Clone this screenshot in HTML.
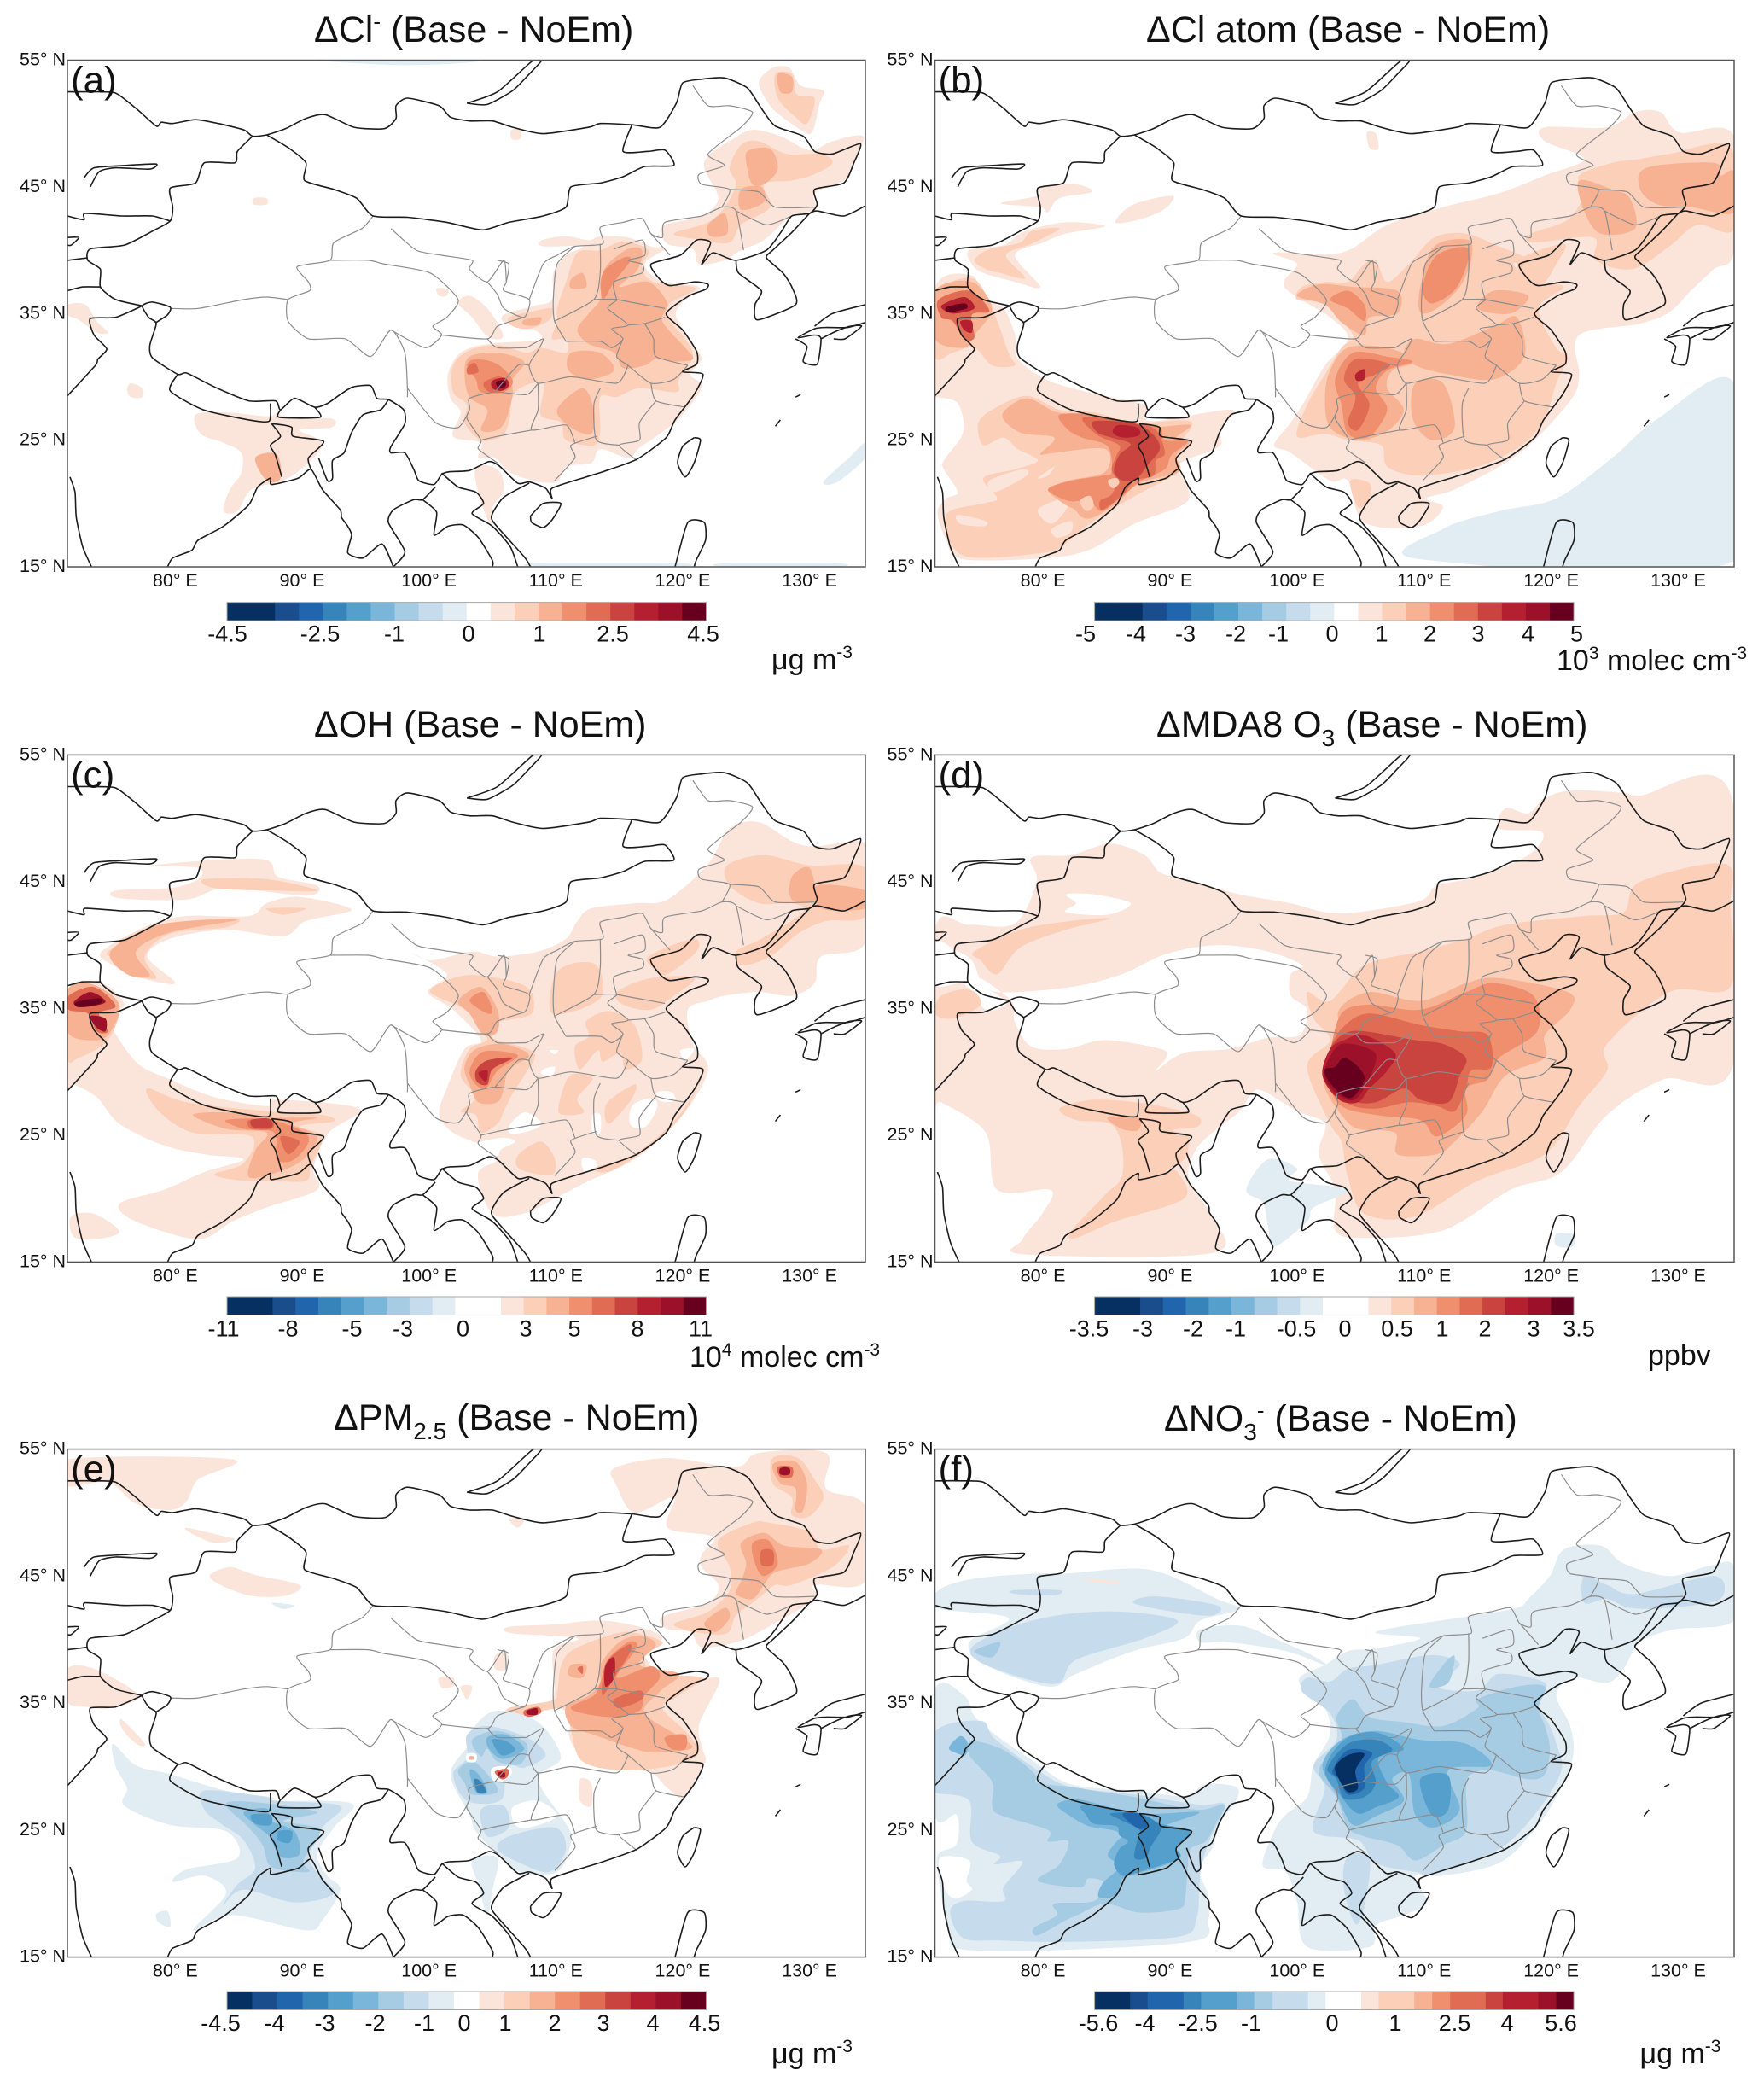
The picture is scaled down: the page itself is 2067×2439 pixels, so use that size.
<!DOCTYPE html>
<html lang="en">
<head>
<meta charset="utf-8">
<title>Base minus NoEm difference maps</title>
<style>
html,body{margin:0;padding:0;background:#fff}
svg{display:block}
text{font-family:"Liberation Sans",sans-serif;fill:#111}
.title{font-size:43px}
.letter{font-size:44px}
.cbl{font-size:27px;text-anchor:middle}
.unit{font-size:34px}
.tick{font-size:21.5px}
</style>
</head>
<body>
<svg id="fig" xmlns="http://www.w3.org/2000/svg" width="2067" height="2439" viewBox="0 0 2067 2439">
<rect x="0" y="0" width="2067" height="2439" fill="#fff"/>
<g id="maps"></g>

<text class="title" x="368" y="49">ΔCl<tspan font-size="26" dy="-15">-</tspan><tspan dy="15"> (Base - NoEm)</tspan></text>
<text class="title" x="1343" y="49">ΔCl atom (Base - NoEm)</text>
<text class="title" x="368" y="863">ΔOH (Base - NoEm)</text>
<text class="title" x="1355" y="863">ΔMDA8 O<tspan font-size="28" dy="11">3</tspan><tspan dy="-11"> (Base - NoEm)</tspan></text>
<text class="title" x="391" y="1675">ΔPM<tspan font-size="28" dy="11">2.5</tspan><tspan dy="-11"> (Base - NoEm)</tspan></text>
<text class="title" x="1364" y="1676">ΔNO<tspan font-size="28" dy="11">3</tspan><tspan font-size="26" dy="-26">-</tspan><tspan dy="15"> (Base - NoEm)</tspan></text>

<g id="cbars"></g>

<text class="cbl" x="266.5" y="751.5">-4.5</text>
<text class="cbl" x="375" y="751.5">-2.5</text>
<text class="cbl" x="462" y="751.5">-1</text>
<text class="cbl" x="549" y="751.5">0</text>
<text class="cbl" x="632" y="751.5">1</text>
<text class="cbl" x="718" y="751.5">2.5</text>
<text class="cbl" x="824" y="751.5">4.5</text>

<text class="cbl" x="1272" y="751.5">-5</text>
<text class="cbl" x="1331" y="751.5">-4</text>
<text class="cbl" x="1389" y="751.5">-3</text>
<text class="cbl" x="1448" y="751.5">-2</text>
<text class="cbl" x="1498" y="751.5">-1</text>
<text class="cbl" x="1561" y="751.5">0</text>
<text class="cbl" x="1619" y="751.5">1</text>
<text class="cbl" x="1675.5" y="751.5">2</text>
<text class="cbl" x="1732" y="751.5">3</text>
<text class="cbl" x="1790.5" y="751.5">4</text>
<text class="cbl" x="1847.5" y="751.5">5</text>

<text class="cbl" x="262" y="1565.7">-11</text>
<text class="cbl" x="337.5" y="1565.7">-8</text>
<text class="cbl" x="412.5" y="1565.7">-5</text>
<text class="cbl" x="472" y="1565.7">-3</text>
<text class="cbl" x="542.5" y="1565.7">0</text>
<text class="cbl" x="616" y="1565.7">3</text>
<text class="cbl" x="673" y="1565.7">5</text>
<text class="cbl" x="747" y="1565.7">8</text>
<text class="cbl" x="821" y="1565.7">11</text>

<text class="cbl" x="1276" y="1565.7">-3.5</text>
<text class="cbl" x="1339" y="1565.7">-3</text>
<text class="cbl" x="1398" y="1565.7">-2</text>
<text class="cbl" x="1448" y="1565.7">-1</text>
<text class="cbl" x="1519" y="1565.7">-0.5</text>
<text class="cbl" x="1576" y="1565.7">0</text>
<text class="cbl" x="1637" y="1565.7">0.5</text>
<text class="cbl" x="1690" y="1565.7">1</text>
<text class="cbl" x="1740" y="1565.7">2</text>
<text class="cbl" x="1797" y="1565.7">3</text>
<text class="cbl" x="1850" y="1565.7">3.5</text>

<text class="cbl" x="258.5" y="2379">-4.5</text>
<text class="cbl" x="321.5" y="2379">-4</text>
<text class="cbl" x="380.5" y="2379">-3</text>
<text class="cbl" x="439.5" y="2379">-2</text>
<text class="cbl" x="497" y="2379">-1</text>
<text class="cbl" x="544" y="2379">0</text>
<text class="cbl" x="592" y="2379">1</text>
<text class="cbl" x="650" y="2379">2</text>
<text class="cbl" x="707" y="2379">3</text>
<text class="cbl" x="765" y="2379">4</text>
<text class="cbl" x="825.5" y="2379">4.5</text>

<text class="cbl" x="1287" y="2379">-5.6</text>
<text class="cbl" x="1341.5" y="2379">-4</text>
<text class="cbl" x="1403.5" y="2379">-2.5</text>
<text class="cbl" x="1466" y="2379">-1</text>
<text class="cbl" x="1561" y="2379">0</text>
<text class="cbl" x="1635" y="2379">1</text>
<text class="cbl" x="1704.5" y="2379">2.5</text>
<text class="cbl" x="1766" y="2379">4</text>
<text class="cbl" x="1829" y="2379">5.6</text>

<text class="unit" x="904" y="784">μg m<tspan font-size="21" dy="-13">-3</tspan></text>
<text class="unit" x="1824" y="785">10<tspan font-size="21" dy="-13">3</tspan><tspan dy="13"> molec cm</tspan><tspan font-size="21" dy="-13">-3</tspan></text>
<text class="unit" x="808" y="1601">10<tspan font-size="21" dy="-13">4</tspan><tspan dy="13"> molec cm</tspan><tspan font-size="21" dy="-13">-3</tspan></text>
<text class="unit" x="1931" y="1599">ppbv</text>
<text class="unit" x="904" y="2417">μg m<tspan font-size="21" dy="-13">-3</tspan></text>
<text class="unit" x="1921.5" y="2417">μg m<tspan font-size="21" dy="-13">-3</tspan></text>
</svg>

<script>
// ---- axis extents and tick values ----
const lonMin = 71.5, lonMax = 134.4, latMin = 15, latMax = 55;
const latTicks = [55, 45, 35, 25, 15];
const lonTicks = [80, 90, 100, 110, 120, 130];

// ---- colour steps: index = contour step (+ red, - blue) ----
const redSteps = ['#fbe5db','#fccfb9','#f7b294','#ef8f6e','#df6c53','#c9433f','#b42030','#9a1129','#67001f'];
const blueSteps = ['#e1edf2','#c6dbec','#a5cce3','#7ab6d9','#559fcd','#3784bb','#2166ac','#1a4d8c','#053061'];

// ---- colour-bar level edges ----
const levelsA = [-4.5,-4,-3.5,-3,-2.5,-2,-1.5,-1,-.67,-.33,0,.33,.67,1,1.5,2,2.5,3,3.5,4,4.5];
const levelsB = [-5,-4.5,-4,-3.5,-3,-2.5,-2,-1.5,-1,-.5,0,.5,1,1.5,2,2.5,3,3.5,4,4.5,5];
const levelsC = [-11,-10,-9,-8,-7,-6,-5,-4,-3,-2,-1,1,2,3,4,5,6,7,8,9,10,11];
const levelsD = [-3.5,-3,-2.5,-2,-1.5,-1,-.75,-.5,-.35,-.2,-.1,.1,.2,.35,.5,.75,1,1.5,2,2.5,3,3.5];
const levelsE = [-4.5,-4,-3.5,-3,-2.5,-2,-1.5,-1,-.5,-.25,.25,.5,1,1.5,2,2.5,3,3.5,4,4.5];
const levelsF = [-5.6,-4.77,-4.36,-3.52,-3.11,-2.28,-1.87,-1.44,-.61,-.2,.63,1.04,1.87,2.29,2.71,3.54,3.94,4.77,5.19,5.6];

// ---- national borders and coastlines, flat lon,lat lists ----
const coastlines = [
[71.5,52.5,73.6,52.5,75.3,52.4,76.9,51.2,78.5,49.8,78.9,50.1,79.8,50,81.6,50.3,83.4,50,85.4,49.5,86.1,49,87.2,49.1,88.7,49.6,90.3,50.4,91.8,50.7,94.1,49.7,96.5,49.6,97.4,50.4,97.4,51.4,98.3,52,100.8,51.4,101.7,50.5,103.2,50.2,105,50.2,106.6,49.7,109,49.2,112.6,49.7,113.5,50,116,49.9,118.2,49.7,119.5,51.6,120,53.2,121.5,53.5,123.3,53.6,125.1,52.8,126.2,51.2,127.3,49.8,129.5,49,130.4,47.8,131.8,47.6,134,48.4,133.5,46.9,132.7,45.3,130.4,44.8,130.6,43.6,130,42.9,128.6,42.7,127.8,41.5,126.6,40,124.2,39.2,122.4,39.8,121.5,38.9,122.2,40.6,121.1,40.8,119.8,39.6,117.5,38.9,118.2,37.7,119,37.2,121,37.5,122,37.3,121.8,36.9,120.5,36.4,118.7,35,120,33.7,121.1,32,121.1,31,120,30.4,121.6,30.2,120.9,28.6,119.4,26.6,118.7,25.2,116.4,23.5,113.7,22.5,112.4,22.1,109.7,21.2,109.7,20.4,109.2,21.2,107.9,21.7,107,21.6,105.5,23,104.7,23.3,103.2,22.6,101.6,22.5,101,22.3,100.4,21.5,99.2,21.8,98.8,22.7,98.1,24,97,24,97,24.5,98.1,26.3,98,27.4,96.8,28.2,95.9,28.3,95.4,29.3,94,29.2,93,28.6,92,27.9,91,27.6,89.4,28.3,88.3,27.4,87.9,28.1,85.8,28.1,83.1,29.2,80.9,30.3,80.2,30.2,78.2,31.5,78,32.5,78.5,34.2,77.9,34.7,77.4,35.6,78.2,35.9,79.6,35.5,79.4,34.9,78.5,34.3],
[77.4,35.6,75.3,36.1,74.1,37.1,74.1,38.5,73.1,39.2,73.3,40.1,76,40.4,78.2,41.5,79.6,42.3,79.8,43.4,79.6,44.9,81.6,45.3,82.3,46.9,84.7,46.9,84.9,47.8,86.1,49],
[79.6,42.3,78.2,42.7,75.8,42.7,72.9,42.9,72.8,42.4,71.5,42.7],
[71.5,41,72.4,41,71.8,40.4,71.5,40.4],
[71.5,39.2,73.1,39.4],
[71.5,36.8,72.7,37.1,74.1,37.1],
[77.4,35.6,75.3,34.7,73.3,34.6,73.6,33.3,74.6,32.2,73.9,31.4,73.7,30.9,71.5,28.5],
[87.2,49.1,88.9,48.1,90.3,46.9,90.2,45.5,92.5,44.8,94.3,44.1,95.6,42.7,98.3,42.6,101.4,42.2,104.2,41.6,106.3,42.2,109,42.7,110.8,43.4,111.2,45,113.5,45.3,115.3,45.8,117,46.6,119.3,46.7,118.6,47.9,117.3,47.8,115.3,47.8,116,49.9],
[130,42.9,130.6,43.1,132.7,42.7,134.4,43.5],
[130,42.9,128.6,41.4,127.1,40,126.6,39.4,127.9,38.2,128.6,37.1,128.9,35.7,125.9,34.5,125.7,35.7,126.2,36.8,124.4,38.2,124.2,39.2],
[80.2,30.2,79.6,28.9,82.2,27.4,85.8,26.6,87.4,26.5,87.5,27.9],
[88.3,27.4,88.2,26.8,91.4,26.8,91,27.6],
[96.8,28.2,96.2,27.4,94.8,27,93.9,25.6,93.3,24,92.4,23.4,92.4,22,92,21.8,91.3,23.6],
[87.6,26.3,88.5,26.2,89.2,26,89.3,25.3,91.7,24.9,90.5,23.6,90.7,22.7],
[87.6,26.3,88.3,25.3,87.5,24.6,87.9,23.8,88.4,22.1],
[79.4,15,79.8,15.7,81.3,16.3,81.8,17.1,83.8,18.2,85.8,19.9,86.5,21.3,87.5,22,87.6,21.5,89.7,22,90.7,22.7,91.6,21.1,93,19.5,93.1,18.9,93.6,18.2,93.9,17.5,93.6,16.1,94.8,15.7,96.3,16.8,97.2,15],
[71.7,22.1,72.1,20.9,72.2,18.9,72.7,16.6,73.4,15],
[97.2,15,98.1,16.2,96.8,18.5,97.2,19.5,98.8,20.3,99.5,20.3,100.5,21.3],
[99.5,20.3,100.6,19.3,100.4,17.5,101.5,18.2,102.7,18.3,103.9,17.3,105,15.5,105,15],
[101,22.4,102.3,21.3,103.7,20.9,104.3,20,103.4,19.2,105,18.2,106.4,16.6,107,15],
[107.9,21.6,105.9,20.5,105,19.2,105.1,18.5,107.5,15.8,108,15],
[108,19,109,20,110.4,20,109.7,18.7,109,18.1,108.1,18.5,108,19],
[120.9,25.2,121.4,25,120.9,23.2,120.2,22.1,119.6,23.2,120,24.5,120.9,25.2],
[134.4,35.7,131.8,35,130.4,34],
[134.4,34.3,133,33.9,131.3,33.9,130.4,33.8,129.1,33.1,130.4,33.3,130.9,33,130.6,31,129.5,31.2,129.8,32.4,128.9,33],
[131.9,33,132.8,33,134.1,34,133.2,34,132.1,33.6,130.9,33],
[119.4,15,120.4,18.5,121.7,18.5,121.8,17.1,121.1,15.6,120.9,15],
[127.3,26.1,127.7,26.6],
[128.9,28.4,129.3,28.6],
[103,51.6,105.4,52.5,108.1,54.9,108.9,55,107.9,53.9,106.6,52.6,104.6,51.5,103,51.6],
[72.8,45.7,73.6,46.5,76.2,46.7,78.5,46.8,78,46.4,75.3,46.5,74,46.2,73.3,45]
];

// ---- provincial borders, flat lon,lat lists ----
const provinces = [
[95.6,42.7,94.7,41.7,92.5,40.6,92.2,39.2,89.6,38.7,90.5,37.5,90.6,36.8,88.9,36.1,88.9,34.4,90.5,33,93.4,33,95.4,31.6,97,33.7,98.1,31.9,98.3,29.1,98.3,28.4],
[79.6,35.4,81.8,35.4,85.4,36.1,87.2,36.3,88.9,36.1],
[92.2,39.2,95.2,39.2,96.5,38.9,100.1,38.2,102.3,36.1,101.4,34.7,100.3,34,101,33.3,99.7,32.3,97,33.7],
[97,41.7,99,40,101,39.6,103.4,39.2,103.2,38.5,104.6,37.5,105.9,39.2,106.1,37.5],
[105.4,39.2,106.3,38.9,106.1,37.5,105.9,36.8,107.9,36.1,107.5,34.7,105.9,35.4,105.4,36.5,104.6,37.5],
[107.9,36.1,109,38.9,110.1,39.6,111.5,40.3,113.7,40.5,113.5,41.8,115.3,42.2,116.8,42.5,117.5,41.3,118.4,41,118.6,42.2,121.5,42.7,123.1,43.4,124.2,43.1,124.8,40],
[123.1,43.4,123.7,44.8,121.5,45.2,121.3,46,123.3,46.7,122,47.6,124.6,49.7,125.5,50.9,123.7,51.4,122,51.4,120.8,53],
[123.7,44.8,126,44.6,127.3,43.4,130.4,43.4],
[124.2,43.1,126.6,42,128.6,42.7],
[111.5,40.3,110.1,38.9,109.8,36.1,109.9,34.4,110.8,32.8],
[113.5,40.5,113.5,38.2,113,36.1,109.9,34.4],
[113,36.1,114.8,36.1,114.1,35.4,115.7,34.1,114.4,33.8,115.3,33,114.4,32.3,113.5,32.8,110.8,32.8],
[114.6,40.1,116.8,40.8,117,39.6,115.7,39.2,116.8,38.9,116.8,38.2,114.6,37.5,114.8,36.1],
[117.5,41.3,119,39.6],
[114.8,36.1,118.6,35.4],
[115.7,34.1,117,34.2,118.6,34.7],
[117,34.2,117.7,33,117.9,31.6,120.4,30.9],
[115.3,33,114.8,31.6,115.7,30.9,117.5,29.5,119.3,29.8,120.4,30.9],
[117.5,29.5,117.9,28.1,120.2,27.6],
[117.9,28.1,116.6,26.4,116.6,25,115,24.6,116.4,23.4],
[107.7,32.3,109,33,108.6,32.1,107.9,30.9,108.6,29.5,111.2,30,114.8,29.5,115.7,30.9],
[113.5,29.1,113,27.8,113.2,25,115,24.6],
[113.2,25.3,111.2,24.6,111.5,23.6,109.9,21.8],
[108.6,29.5,108.6,27.4,108.1,25.8,110.8,26.2,111.5,24.8],
[104.1,25,105.4,25.3,108.1,25.8],
[98.3,29.1,100.5,26.4,102.3,26,103.2,27.4,103.2,28.3,105.2,28.8,107.7,28.6,108.6,29.5],
[103.2,27.4,103,26.7,104.1,25,103.9,24.3,105.4,23.2],
[105.2,28.8,107,30.9,107.9,30.9],
[104.6,33,105.4,32.3,107.7,32.3],
[101,33.3,104.6,33,105.4,34,107.5,34.7]
];

// ---- panel (a) filled contours: [colour step, flat lon,lat ring] ----
const contoursA = [
[-1,[131.1,21.7,133.1,23.6,134.4,24.8,134.4,23.6,132.2,21.7]],
[-1,[108.6,15,109,15.3,119.5,15.3,119.5,15]],
[-1,[123.4,15,123.4,15.3,132,15.3,132,15]],
[-1,[92,54.9,98,54.6,103,54.8,103,55,92,55]],
[1,[127.1,54.4,128.4,54.4,129.3,53,131.1,52.6,130.8,51.6,130.2,49.3,129.3,49.5,128,50.4,126.9,51.4,126,53.2]],
[1,[124,48.8,125.5,49.5,127.7,49,130,47.9,131.8,48.6,134.2,49,133.5,46.9,132.7,45.5,130.4,44.5,130.5,43.2,128.6,42.7,126.4,40.8,124.6,40,123.3,39.2,121.3,38.9,120.8,40.1,118.8,40.5,118.4,41.9,121.5,42.7,122.8,44.1,121.7,46.5,122.2,47.6]],
[1,[108.9,40.8,110.8,41.1,112.6,40.8,113.5,41.1,115.7,41,117.5,40.3,118.6,40.1,117,38.9,118.4,37.5,121.3,37.1,119.9,35.8,119.5,34.7,120.8,32.6,121.5,31.4,120.6,30.2,121.5,29.2,119.9,26.9,118.2,25.5,116.6,24.4,115.7,23.6,113.5,24.3,112.8,23.2,110.8,22.9,110.1,21.7,108.3,21.8,106.3,22.5,105.2,23.6,103.9,23.6,104.1,24.8,101.9,25.3,102.5,27.2,101.7,28.3,101.5,30.2,102.5,31.9,104.6,32.6,107.7,32.8,108.9,33,108.3,33.7,106.1,34.2,105.9,34.9,108.3,35.6,109.7,36.1,109.8,38.2,110.8,39.6,112.1,40.3,109,40.3]],
[1,[102.3,35.8,103.2,36.4,104.6,35.4,105.7,33.7,105.7,33,104.6,33.2,103.4,34.7]],
[1,[100.6,37,101.5,36.9,101.4,36.4,100.8,36.4]],
[1,[81.6,27,84,27.2,87.6,26.9,88.1,27.8,88.5,26.9,92.3,26.7,92.3,26,89.8,25.8,91.6,24.8,90.5,23.2,88.5,21.8,86,21.1,84.9,19.4,83.8,19.4,84.3,21.1,85.2,22.4,85.2,24,83.8,24.8,82,25.5]],
[1,[71.5,35.7,72.9,35.7,73.8,34.4,74.7,33.5,73.8,33.5,72.4,34.5,71.5,34.9]],
[1,[76.5,29.5,77.4,29.1,77.4,28.4,76.5,28.4,76.2,29]],
[1,[103.7,22.9,105.4,22.7,105.9,21.1,105,19.7,104.8,18.4,103.9,20.8]],
[1,[86.2,44.1,87.2,44.1,87.2,43.6,86.2,43.6]],
[1,[106.5,49.5,107.2,49.5,107.2,48.8,106.5,48.8]],
[2,[124.6,48.3,126,48.6,128.2,47.6,130.9,47.6,131.8,46.9,130.4,46,128.6,45.5,126.4,45.2,126.9,43.4,124.6,42,123.7,40.6,121.5,40.8,119.3,41.3,122,42.2,123.3,43.4,124.2,45.2,123.7,46.5]],
[2,[127.3,53.9,128.6,53.9,129,52.3,130.4,52,129.8,50,128.9,50.5,127.5,52]],
[2,[110.1,35.4,110.8,37.5,111.7,39.8,113.5,40,115.3,40.7,117.3,40,116.8,38.7,117.7,37.5,121,37,119,35.8,118.8,34.7,120.2,33,120.8,31.6,119.7,29.8,119.5,28.8,116.6,29.1,114.8,28.4,113.5,28.4,113.5,25.7,113,24.6,110.8,25,110.4,26.4,108.8,27,109,29.5,106.8,28.8,106.3,26.4,105.7,25.3,104.1,25,102.8,26.4,103,27.8,101.9,28.8,101.9,30.9,103.2,32.1,105.4,32.5,107.7,31.9,108.8,32.3,110.8,31.9,110.8,33,109.7,33,110.1,34.4]],
[2,[106.3,34.7,108.3,35.2,109.7,35.4,109.5,34.5,107.9,33.8,106.6,34]],
[3,[113.5,37.5,114.1,38.9,115.7,40.1,116.8,40,116.4,38.4,115,37.1,117.3,37.5,118.8,35.8,118.4,34.4,120.2,32.3,120.8,31.4,119.3,31.2,117.9,31.4,117,30.9,115.3,30.7,114.6,31.9,112.6,32.6,111.7,33.7,112.6,35,113.5,36.1]],
[3,[102.8,30.2,103.2,31.6,105.4,31.9,107.5,31.2,106.6,29.8,106.6,28.6,106.1,26.7,105.4,25.8,104.1,25.8,104.6,27.4,103.2,28.4]],
[3,[111.2,31.9,113.5,31.9,114.6,30.5,112.6,29.8,111,30.5]],
[3,[112.1,29.1,113,27.4,112.8,25.5,111.2,26,110.1,27.4]],
[3,[111.2,37.7,112.1,38.2,112.4,37.1,111.2,37]],
[3,[86.3,23.6,88,23.9,88.3,22,87.2,21.8]],
[3,[125.1,47.8,126.9,48,127.5,46.4,126.4,45.2,125.5,45.2,125.1,46.4]],
[3,[124.6,44.8,126.2,45,126.4,43.8,124.6,43.2]],
[3,[122,42,123.3,42.9,123.5,41.3,122.2,41.1]],
[3,[127.5,53.9,128.6,53.7,128.6,52.5,127.7,52.5]],
[3,[107.5,34.5,108.8,34.7,108.6,34.1,107.5,34.1]],
[4,[113.7,38.2,115.3,39.4,115.9,39.2,114.6,37.5,113.7,36.1]],
[4,[103,30.9,103.7,31.4,105.4,31,106.6,29.7,105.9,28.8,104.1,28.8,103.7,29.8]],
[5,[103,30.7,103.6,31.1,103.9,30.4,103.1,30.2]],
[5,[104.3,29.5,105.4,30,106.3,29.7,106.1,29,104.8,28.8]],
[7,[105,29.7,106,29.9,106.3,29.3,105.7,28.9,105,29.1]],
[9,[105.3,29.6,106,29.7,106,29.2,105.5,29.1]]
];

// ---- panel (b) filled contours ----
const contoursB = [
[-1,[109.7,15.6,111.5,18,115.9,19.4,120.4,20.4,124.8,23.6,128.4,26.7,134.4,29.5,134.4,15.5]],
[1,[119.5,49.7,124.4,49.7,126.6,50.9,128.6,50.9,130.1,49.3,134.4,49,134.4,40,132.8,38.5,131,36.8,129.3,35.1,127,34.2,122.2,33.3,122.2,30.2,121.7,28.4,119,25.3,116.4,23.2,112.4,21.1,110.2,20.4,111.5,19.7,109.7,18.2,105.3,18.5,104,21.8,102.6,21.8,99.5,24,98.2,24.6,99.5,26.4,100.6,28.1,102.2,30.9,104,33,102.6,34.7,99,37.1,100,38.9,98.2,39.8,103.5,39.8,107.1,42,111.5,43.4,115.9,44.5,119.5,45.9,122.6,47.2,119.5,48.6]],
[1,[71.5,37,74.4,38,75.3,36.1,76.9,35.4,77.8,33.3,78,31.5,80,29.9,82.7,29,87.2,28,88.2,27.7,88.5,26.5,94.8,27.4,93.9,25.8,93.9,24.5,91.2,23.4,90.7,22.7,91.4,20.2,87.2,18.4,83.8,16.4,80.4,15.7,73.7,15.6,72.4,17.1,71.7,19.3,72.4,20.4,73.3,20.9,72.2,22.7,72.2,23.4,73.7,25.6,73.3,27.9,71.7,28.4,71.5,28.5]],
[1,[74.2,40,76.9,40.4,78.6,41.5,81.8,42.2,84.9,41.9,81.8,41.3,80,40.6,77.8,39.6,79.8,37.1,77.8,37.5,75.3,38.2,74.4,38.9]],
[1,[76.9,43.8,79.6,44.3,79.9,45,82.6,45.2,83.9,44.6,81.3,44.1,80.4,43,79.8,43.4,77.1,43.6]],
[1,[85.7,42.2,87.1,43.6,90.2,44.3,89.5,43.2,87.5,42.4]],
[1,[105.5,49.3,106.2,49.2,106.4,48,105.7,48.1]],
[2,[122.2,45.9,124.8,46.9,127,47.2,129.3,47.6,134.1,48.1,134.4,41.7,131.5,42,129.3,40.3,126.4,38.5,123.5,39.2,123.3,41,118.6,40.6,118.4,41.3,121.3,42.4,122.6,44.5]],
[2,[108.8,38.9,110.8,41,113.3,41.3,115.9,40.3,118.4,39.2,117,38.9,118.8,37.5,121,37.1,119,35.4,120.4,32.3,121.3,31.6,120.4,29.5,119.5,26.7,117.7,24.6,114.2,22.9,109.7,22.2,107.1,22.9,106.6,24.6,104,25,102.2,25.5,100,25.3,100.8,27.8,102.2,30.2,103.5,32.3,104.4,33.3,102.2,35.7,100,36.1,100.4,37.1,102.2,37.5,104,37.5,105.3,38.9,106.2,39.2,107.1,37.5]],
[2,[117.3,39.1,121,40.5,120.4,38.9,119,37.1]],
[2,[104.2,21.8,105.7,21.6,105.7,20.4,104.8,19.7]],
[2,[74.9,26.3,76,27.4,78.7,28.5,81.3,27.4,84,27.2,87.2,26.4,91.6,26.5,91,25,91.7,24.9,90.5,23.6,90.7,22.5,87.8,20.9,85.4,19.5,83.1,18,81.6,16.7,80,16.1,73.7,15.9,72.4,19.1,75.3,20,76.4,20.4,75.3,22,77.8,22.7,79.6,23.4,78,24.3,76.9,25.2,75.3,24.6]],
[1,[75.8,21.8,78.4,22.7,78.7,22.2,76.2,20.9]],
[1,[79.6,19.5,81.6,20.4,82,19.8,80.7,18.4]],
[1,[80.7,18,82.2,18.6,82.2,17.7,81.1,17.3]],
[1,[79.6,22,80.9,22.9,80.4,22.2]],
[1,[73.3,19.1,75.5,18.6,75.3,18.2,73.5,18.4]],
[2,[71.5,36.4,74.4,37.8,76,35.4,77.3,31.9,77.8,30.9,76,30.9,74.6,32.3,72.9,31.9,71.5,31.6]],
[2,[74.6,39.2,75.8,40.1,78.2,40.6,79.1,41.5,81.3,41.7,79.1,40.5,77.1,39.6,78.6,37.8,76.6,38.2,75.5,38.5]],
[3,[127.5,46.5,132.8,46.9,133.3,45.9,134.4,46.2,134.4,43,131,43.4,128.4,43.6,127,44.8]],
[3,[122.2,45.5,124.8,44.8,126.2,44.1,126.6,41.7,123.9,41.3,122.6,43.1]],
[3,[109.7,37.1,110.8,40.3,113.5,40.8,113.7,39.2,112.8,37.1,111,35.4,109.7,35.1]],
[3,[100,36.4,101.7,37.3,104.4,37.1,107.9,36.8,107.9,35,105.7,34.7,105.3,33.3,103.5,34.3,102.2,35.7]],
[3,[102.6,30.5,104,32.3,107.1,32.3,109.3,31.2,107.5,30.5,107.1,29.1,108.4,27.4,107.1,25.7,104.8,25,102.6,26,102.2,28.4]],
[3,[109.3,33,111.9,32.6,115.5,34,117.3,34.7,117.9,31.6,115.5,29.8,111.9,30.2,109.3,30.9,108.4,31.9]],
[3,[109.3,29.5,111.5,29.5,112.4,26,110.6,25,109.1,26.7]],
[3,[114.2,35.4,115.5,36.8,118.2,36.4,116.8,35]],
[3,[76.8,27,78.7,28.3,81.1,27.2,83.8,27,87.2,26.3,88.5,26,91.6,26.2,90.5,25.2,91.6,24.9,90.5,23.8,90.7,22.5,87.6,21.6,85.8,20,84,18.9,83.1,18.9,82.5,19.5,81.6,20,80.4,21.1,82,21.8,84.9,22.5,84.9,24.3,80.9,24,79.8,23.9,80.9,25.2,78.2,25.6]],
[3,[71.5,36.8,74.4,37.5,76,35.4,74.6,33.3,73.8,32.3,71.5,33]],
[4,[109.9,37.1,111,39.6,113.5,40.1,112.6,37.1,110.6,35.8]],
[4,[102.6,36.1,104,36.8,105.3,35.7,105.3,34.4,104,35.4]],
[4,[103,29.8,104.4,31.9,107.1,31.6,109.1,31.2,107.1,30.5,106.2,29.1,107.1,27.4,105.7,25.3,104,25.5,103.5,27.8]],
[4,[81.3,27,84,27,87.2,26.3,89.2,26,89.6,25,91.4,24.9,90.1,23.8,89.6,22.7,87.6,21.7,85.8,20.2,84.6,19.4,83.6,20.2,82,20.2,80.4,21.1,82.2,21.8,84.7,22.2,85.4,22.5,85.1,24.5,83.1,25.2,82,25.8]],
[2,[82.9,20.2,83.7,20.6,84,19.8,83.4,19.4]],
[5,[83.1,26.7,84.9,26.8,87.4,26.3,88.9,25.8,89.6,24,88.9,23.4,88.7,22.2,87.2,21.8,86.3,20.7,84.7,19.5,84.5,20.2,85.4,20.7,85.8,21.8,85.4,22.7,85.8,23.8,86,24.6,84.3,25.4]],
[2,[85.1,21.8,85.8,22,86,21.6,85.5,21.2]],
[5,[103.7,29.8,104.6,31.4,107.3,31,106.2,30.2,104.8,29.5,105.7,27.8,104.8,25.8,104,26.4,104.6,28.4]],
[5,[71.8,36.1,74.2,36.8,75.8,35.2,74.4,34.9,74.6,33.1,73.8,33,72.9,34.4,72,34.7]],
[6,[84,26.5,87.2,26.3,88.7,25.4,89.2,24.3,88.3,23.1,87.4,22,86.3,21.8,85.6,22.5,86,23.8,86.9,24.7,85.4,25.2,84.3,25.6]],
[7,[85.5,25.8,86,26.2,87.4,26,87.6,25.4,86.5,25.2,85.7,25.4]],
[7,[104.6,30.2,105.3,30.6,105.3,29.8,104.7,29.7]],
[7,[72,35.6,73.8,36.3,74.6,35.4,72.9,35]],
[7,[73.5,34.4,74.4,34.4,74.4,33.5,73.8,33.7]],
[9,[72.4,35.5,73.8,35.8,74,35.4,72.6,35.1]]
];

// ---- panel (c) filled contours ----
const contoursC = [
[1,[112.8,42.9,116.2,43.3,118.8,43.6,122,46.4,123.7,49.2,126,49.7,128.6,48.2,130.4,47.8,134,48.2,134.4,46.8,134.4,40.2,130.9,39.1,130.4,37,128.6,36,126,36.3,123.3,36,122,35.6,120.4,34.9,120.8,32.2,122,30.1,119.7,26.2,116.2,23.1,112.6,21.4,109.9,20,107.7,18.9,105.4,18.6,104.3,20,103.9,22.1,105.4,23.1,104.1,24.2,101.9,25.2,100.8,26.6,101.4,28.7,102.8,31.8,104.1,32.5,101.9,34.9,99.9,36.3,101.4,37.7,98.5,39.5,100.1,38.8,103.4,39.5,105.4,39.1,108.6,39.5,110.8,40.5,111.7,41.9]],
[0,[106.3,25.7,107.5,26.8,108.8,26.1,108.4,25.5,106.6,25.1]],
[0,[102.8,24.1,105.7,24.8,106.8,24.5,105.7,23.9,105.2,23.2,103.2,23.5]],
[0,[116.2,27.5,117.6,27.9,118,27.2,117.1,25.7,116,25.7,115.8,26.6]],
[0,[112.9,26.6,113.5,26.6,113.5,25.2,112.9,25.2]],
[0,[109,30.2,109.9,30.4,109.7,29.7,108.9,29.8]],
[0,[109.5,31.7,110.2,31.7,109.9,31.4]],
[0,[112.1,23.2,113.1,23,113.1,22.3,112.2,22.2]],
[0,[119.8,31.7,120.9,31.8,120.2,30.9]],
[0,[118,28.4,119.1,28.4,119.4,27.7,118.2,27.7]],
[1,[71.5,36.3,74.2,37,76,35.3,74.7,34.3,76.9,30.8,79.6,29.4,83.1,28,87.2,27.3,88,27.8,94.5,27.1,92.1,25.2,90.9,22.4,91.2,20.7,87.2,19.3,84.5,18.2,81.8,16.8,76.9,18.2,75.6,19.6,79.1,20.7,82.3,22.1,85.4,23.1,82.3,23.5,79.1,24.2,75.6,25.9,73.8,28,72,29,71.5,29]],
[1,[71.8,18.6,73.6,18.8,75.6,17.4,73.8,16.8,72,17]],
[1,[74.2,39.5,78,41.6,80.9,42.3,85.8,42.3,87.2,43.3,89.8,43.8,93.9,42.8,90.3,41.9,88.5,40.7,84,41.2,79.6,40.5,77.8,39.1,80,37,77.3,37.4,75.1,38.4]],
[1,[75.3,44.3,79.6,44.5,81.8,45.2,81.8,46.1,78.2,46.3,86.7,46.8,88.1,45.4,91.2,44.7,90.3,43.9,84,44.5,80.9,43.6,75.6,43.7]],
[2,[123.5,46.3,126.4,47.1,130,46.3,134.4,46.1,134.4,42.3,131.3,41.9,129.1,40.9,126.9,39.1,124.6,38.4,124.2,39.5,126.2,40.5,129.5,42.6,128.6,43.3,126,43.3,123.7,44.7]],
[2,[109.7,34.6,110.2,38,113.1,38.5,113.5,35.8]],
[2,[117.3,39.1,120.8,40.5,121.1,39.5,118.8,37.7,117.9,38]],
[2,[114.8,36.3,117.5,37.4,120.9,37.4,119.3,36,117.5,34.9,115.3,35.3]],
[2,[112.4,34,114.2,34.8,116.2,33.7,116.8,31,115.5,30.2,115.1,31.5,113.7,30.8,113.3,31.7,111.9,30.2,111.5,32,112.6,32.8]],
[2,[111.1,29.7,112.9,29.5,111.7,27.9,112.2,26.8,110.6,26.6,110.2,27.2]],
[2,[114,27.5,116.2,29,116,27.9,114.2,25.9]],
[2,[100.1,36.3,101.9,37.4,104.1,37.6,107.7,36.7,108.1,34.6,105.4,33.9,105,32.9,105.4,32.5,108.3,31.5,107.5,29.7,106.6,28.3,105.9,26.9,105.4,25.9,104.1,25.2,103.7,26.6,102.5,26.9,103.7,28,102.5,29.7,103.2,31.8,104.6,32.7,102.8,34.9]],
[2,[107,23.4,108.8,24.5,109.9,23.2,109.7,21.9,107.2,22.3]],
[2,[113,22.4,116.2,23.5,119.3,26.1,121.1,28.7,121.5,29.7,120.2,26.9,117.5,24.2,114.4,22.2]],
[2,[77.8,28.7,80.9,27.6,87.2,26.9,91.6,26.6,92.5,26.1,89.8,25.7,91.6,24.9,90.7,22.6,90.3,21.4,87.6,21.4,85.4,21.4,83.1,21.9,85.4,22.8,86,24.9,81.4,25.2,78.7,26.9]],
[2,[74.7,39.5,78.2,41.4,80.9,41.9,84.9,42.1,84,41.4,79.6,40.9,77.6,39.1,78.5,37.4,76.7,37.7,75.6,38.8]],
[2,[82.3,45.2,87.2,45.2,91.2,44.3,87.6,44.3,83.1,44.5]],
[2,[87.2,42.9,90.3,42.9,88.5,42.4]],
[2,[71.5,36,73.6,36.7,75.6,35.3,74.7,32.5,72.4,31.1,71.5,31.1]],
[3,[102.8,30.4,103.7,31.8,105.9,32.2,107.9,31.3,106.3,30.2,105.9,28.7,105.4,27.6,103.9,27.6,103.2,29]],
[3,[102.3,35.6,104.1,36.7,105.4,34.9,105.4,33.2,104.3,32.9,103.2,34.6]],
[3,[74.9,39.5,78.7,41.6,84.9,42,79.6,41,76.9,39.5,78,37.6,76.2,37.7]],
[3,[81.4,26.6,84,26.8,87.6,26.4,91.2,26.4,89.2,25.9,91.2,24.9,90.1,23.1,88.1,22.1,85.8,21.7,86.3,23.8,87.2,25.2,84,25.5]],
[3,[71.5,36.5,73.5,36.9,75.6,35.3,74.7,32.9,73.1,32.5,71.5,33.2]],
[3,[128.6,45.4,130,46.1,130.4,43.6,128.6,43.6]],
[3,[130.6,44.7,134.4,44.3,134.4,42.9,130.9,42.9]],
[4,[103.2,30.1,104.3,31.6,107,31.3,105.4,30.1,104.5,28.7,103.7,29]],
[4,[84,26.2,87.6,26.2,90.5,24.9,89.4,23.1,88,23.1,87.8,25.2,85.4,25.5]],
[4,[103.2,35.6,104.3,36.3,105,34.9,104.6,34.6]],
[5,[85.8,26.2,87.6,26.2,87.6,25.5,86,25.5]],
[5,[88.3,24.9,89.8,24.5,88.9,23.5]],
[5,[71.6,36,73.6,36.7,75.3,35.2,74,34.6,74.7,33.2,73.8,33.2,73.1,34.6,71.6,34.9]],
[6,[103.7,30.1,104.6,30.9,106.6,31.1,105,30.2,104.6,29,103.8,29.2]],
[6,[86,26.2,87.4,26.3,87.6,25.6,86.2,25.6]],
[7,[103.9,29.9,104.6,30.1,104.5,29.2]],
[8,[72,35.5,73.3,36.3,74.5,35.5,72.7,35.1]],
[8,[73.3,34.4,74.5,34.2,74.5,33.2,73.8,33.5]],
[9,[72.2,35.5,74,35.8,74.1,35.4,72.4,35.1]]
];

// ---- panel (d) filled contours ----
const contoursD = [
[1,[71.5,41.2,74.2,41.6,77.8,41.7,79.5,45,79.1,46.9,82.2,47.1,85.3,48,88,47.1,89.3,45.7,92,45,95.5,44,99.5,43.3,102.2,42.6,104.8,42.6,109.7,43.5,111,44.7,114.2,45.4,118.2,47.1,119.3,48.9,115.9,49.2,116.4,50.8,118.2,50.4,119.5,51.6,121.7,52.2,125.7,52,127,51.8,134.1,52,134.4,30.8,128.8,29.4,124.4,26.6,120.8,22.1,116.8,20.7,111.5,17.5,105.3,16.9,103,17.5,103,20.7,101.7,23.5,102.2,25.9,100,26.9,97.3,28.5,96.4,28.3,95.5,26.9,93.7,25.5,92,23.8,91.5,21.4,93.3,18.6,93.3,15.7,78.6,15.6,78.4,16.8,80,18.9,80.6,20.7,76.4,20.7,75.5,25.2,72,27.6,71.5,27.8]],
[0,[75.1,37.4,76.4,36.3,82.2,36.7,86.2,37.7,89.7,39.3,93.7,40,97.7,39.5,100.4,38.4,99.5,37.7,99.5,36,100.8,34.9,100.2,32.9,97.7,32.7,94.6,31.8,91.1,31.5,88.9,30.1,89.7,31.1,89.3,31.8,84.9,32.5,81.8,31.8,79.1,32,77.8,33.9,77.5,35.6]],
[0,[71.5,40.3,73.1,39.6,74.4,38.8,75.3,36.9,77.1,35.5,75.5,34.9,73.8,36.9,71.5,36.9]],
[0,[81.8,44,84,44,86.9,43.3,85.1,42.4,81.8,42.6,82.6,43.3]],
[-1,[96,20.7,97.7,23.1,100,22.4,99.5,21.4,104,20.7,101.3,19.3,100.8,18.2,98.2,16.2,97.7,17.9,97.3,19.7]],
[-1,[120.4,17.2,121.7,17.2,121.7,16.2,120.4,16.3]],
[2,[102.6,35.6,105.3,38.4,109.7,39.5,113.3,40.5,116.4,41.6,122.6,42.3,125.7,42.6,127,45,133.7,46.4,134.1,43,134.1,36.7,129.3,36.3,124.4,32.2,124.4,30.1,122.2,27.3,119.5,23.5,114.2,21.4,109.3,18.6,105.3,18.8,104,21.7,103.5,24.5,102.6,25.9,100.8,30.4,102.6,32.5,101.3,34.2,100.8,36.3]],
[2,[74.6,39.5,78.2,41.2,82.2,41.9,85.3,42.1,81.8,41.2,78.2,39.8,76.4,37.7,75.1,38.8]],
[2,[81.3,27.1,84,27.8,88,27.5,92,26.6,92.2,25.7,90.2,25.4,91.5,24.9,91.1,23.1,89.7,22.2,90.6,22.1,91.1,20,85.7,18.2,82.6,16.9,82.2,17.4,84.9,20.3,86.2,21.7,86.2,24.2,85.3,25.9,82.6,26.2]],
[2,[72,36,74.2,36.5,75.1,35.3,72.9,34.2,71.5,34.6]],
[3,[103.3,34.9,105.7,36.3,109.7,35.6,113.3,37,115.9,37.4,121.3,36.3,121.5,34.9,119.5,32.9,119.5,31.1,116.4,29.7,114.6,26.9,112.4,24.5,111,23.5,107.9,23.5,107.7,25.2,104.8,25.5,103.5,26.6,102.2,28.7,102.2,30.4,103.5,32.5]],
[3,[85.1,26.4,87.5,26.4,87.5,25.4,86.2,25.5]],
[4,[103.5,34.6,105.7,35.3,109.7,34.9,113.3,36.3,115.5,37,118.6,36,118.9,33.2,115.9,31.1,115,29.4,113.3,28.7,113.3,26.6,111,24.9,109.7,26.2,106.2,26.6,103.5,27.3,102.4,29.4,102.6,31.5]],
[5,[103.7,33.6,105.7,34.6,109.7,33.7,112.8,33.2,115,32.9,115.3,30.4,113.7,30.1,113.3,28.7,112.4,26.9,111,27.3,108.8,27.6,106.2,27.1,104,27.5,102.4,29.4,102.6,31.8]],
[6,[103.7,33,105.3,33.2,109.3,32.5,111.5,32.2,113.3,31.1,112.8,29.7,111.9,27.6,109.7,27.8,108.4,28.7,106.2,27.6,104.2,27.8,102.2,29.7,102.6,31.8]],
[7,[103.7,32.5,105.3,32.9,107.7,31.5,107.1,30.1,105.7,28.7,104.8,27.6,103.3,27.8,102,29.7,102.6,31.8]],
[8,[103.5,32.2,105.7,31.8,106.2,30.8,104.8,28,103.5,28,102.2,29.4,102.4,30.8]],
[9,[103,30.4,103.7,31.1,104.8,30.4,105.3,29.4,104.4,28,103.5,28.2,102.4,29.4,102.2,30.2]]
];

// ---- panel (e) filled contours ----
const contoursE = [
[1,[114.6,53.5,118.8,54.3,124.2,53.6,126,54.7,131.3,54.7,131.3,51.9,134.4,50.5,134.4,44.6,130.4,44.3,130.4,43.2,126.4,40.8,124.2,39.8,121.5,39.4,120.6,40.6,118.8,40.8,118.4,41.8,122,42.9,122.8,44.3,121.5,45.7,121.5,46.7,122.4,48.1,118.8,48.8,119.3,51.2,116.2,50,114.8,52.1]],
[1,[71.5,54.2,84.5,54.2,81.8,52.6,80.9,50.9,79.6,50.2,76.9,50.7,74.7,52.4,71.5,52.1]],
[1,[80.9,48.8,84,48.1,84.7,47.9,83.1,47.6,81.4,48.3]],
[1,[82.7,45,84.3,45.7,86.3,45.1,89.8,44.3,88.9,43.5,86.3,43.4,84,44.1]],
[1,[106.3,41,109.9,41.2,113.5,41.5,116.6,41,118.4,40.1,117,38.9,118.4,37.3,121.7,37,122.9,36.7,121.3,33.3,121.6,31.3,121.8,30.4,120.9,28.6,120,27.5,118.7,28.4,117.5,29.5,114.8,30,112,30.9,111,32.6,111.5,33.8,109.7,34.7,106.3,34.2,106.5,34.7,109.7,35.2,109.8,39.1,111.7,40.1,106.5,40.5]],
[0,[114.2,31.3,115.1,31.1,115.5,30,114.4,30.4]],
[0,[112,31.5,112.6,31.5,112.6,30.9,112.1,30.9]],
[1,[111.9,29,112.8,28.7,112.8,26.9,111.9,27.3]],
[1,[71.5,37.7,73.6,37.7,77.1,35.6,74.9,34.6,73.1,34.7,71.5,35.1]],
[1,[75.8,33.7,77.6,31.8,76.9,31.8,75.8,33]],
[1,[100.8,37,101.9,37,101.9,36.3,101,36.2]],
[1,[102.5,36.3,103.4,36.3,103,35.3]],
[1,[105.2,38.7,106.1,39.1,106.1,37.7,105.2,37.7]],
[1,[106.3,49.5,107.5,49.5,107,48.8]],
[2,[110.1,35.9,110.4,37.9,111.2,39.1,113.5,40.1,115.7,40.6,118.4,39.8,117,38.7,117.8,37.3,121.5,37,119.7,35.6,118.4,34.6,120.2,32.8,121.3,31.1,119.3,30.1,115.3,29.7,112.1,30.4,111.2,32.8,110.8,34.6,107,34,106.3,34.6,109.7,35.2]],
[2,[122.8,47.8,125.5,49.2,126.8,49.2,130,48.5,130.9,47.1,133.1,47.4,131.8,45.7,128.6,44.3,127.3,44.3,126.4,43.6,125.5,42.9,124.2,41.9,123.5,40.5,121.5,40.5,119.3,41.2,122,42.2,123.7,43.9,123.7,45.7]],
[2,[127.1,54.3,129.1,54.3,130.4,52.6,131.1,51.2,130,49.7,128.6,49.8,128.6,51.2,127.1,52.3]],
[3,[113.5,38,115,39.8,116.6,40.3,117.9,39.6,116.6,38,119.7,37.3,118.2,35.9,117,34.2,120.2,32.1,120.6,31.4,117.9,31.1,116.2,31.4,113,32.5,111.2,33.2,110.8,34.7,112.6,35.6,113.5,36.6]],
[3,[111.2,38,112.4,38,112.1,37,111,37.2]],
[3,[124.6,47.6,126.4,48.4,128,47.4,130.9,47.1,130,46,127.3,45.3,126.4,44.3,125.5,43.2,124.2,43.6,124.6,44.6,125,46]],
[3,[127.1,53.8,128.9,54,129.8,52.3,129.5,50.2,128.9,50.2,128.9,51.9,127.7,52.3]],
[3,[121.7,41.3,123.3,42.5,123.7,41.7,122.6,40.6]],
[4,[113.5,36.6,114.1,38.4,115.7,39.8,116.4,39.4,114.8,37,117.5,37.9,118.2,37,117,35.6,116.6,34.4,114.6,33.9,112.1,34.2,111.2,34.7,113,35.6]],
[4,[118.6,32.3,120.2,32.5,120.2,31.4,119.1,31.4]],
[4,[125.5,47.6,126.8,47.8,127.5,46,126.4,45,125.7,46]],
[5,[113.7,37,114.1,38.4,115.7,39.6,115.9,39.1,114.6,37,113.7,35.6]],
[5,[114.6,35.3,116.6,36,116.8,35.3,115,34.6]],
[5,[126.2,47,127.1,47,127.1,45.9,126.2,45.9]],
[5,[107.5,34.4,108.6,34.7,108.8,34.2,107.7,33.9]],
[5,[111.7,37.7,112.1,37.9,112.1,37.3]],
[5,[127.5,53.6,128.6,53.6,128.6,52.8,127.7,52.8]],
[7,[113.9,37.9,114.6,38.6,114.6,37,113.9,36.3]],
[8,[107.7,34.4,108.5,34.6,108.5,34.1,107.8,34.1]],
[8,[127.7,53.5,128.4,53.5,128.4,53,127.7,53]],
[-1,[103.7,33.3,105.4,34.4,108.6,33.5,110.4,30.7,108.6,29,110.8,25.5,111.2,24.1,110.1,21.7,107.2,21.7,105.4,23.1,103.7,24.9,103.2,26.2,101.7,29.4,103.2,31.8]],
[0,[106.6,26.8,108.6,27.3,110.1,26.1,107.9,25.2,106.8,25.4]],
[-1,[75.1,31.8,76.9,30.1,79.6,29.4,84,28.1,87.6,27.6,88,27.3,93.9,27.1,92.5,25.2,91.2,23.1,92,21.4,93,20.3,91.6,17.9,90.3,17.1,84.5,18.3,81.4,17.1,84,20,82.3,21.4,79.8,20.9,80.9,21.9,84.9,22.8,84,24.9,79.6,25.4,76,26.9,76.2,28.3,75.3,30]],
[-1,[78.5,18.4,79.4,18.6,79.6,17.4,78.7,17.7]],
[-1,[103.4,22.6,105.4,22.8,105,20.3,104.6,18.3,103.9,20.7]],
[-1,[87.6,42.9,89.4,42.7,88.5,42.4]],
[-2,[103,32.5,104.6,33.2,107.7,32.3,109.2,30.9,107.5,29.9,106.1,30.1,105.7,27.4,103,27.3,101.9,29.4,103,30.7]],
[-2,[106.3,24.5,109.9,25.2,110.8,23.5,109.5,21.7,107.2,22.4,105.4,23.5]],
[-2,[104.1,26.6,105.9,26.9,106.3,25.2,104.6,24.5]],
[-2,[82.3,28.1,87.2,27.6,88,27.3,93,26.9,91.6,25.2,90.5,23.1,91.2,21.6,92.5,20,89.4,19.3,85.4,20.3,83.8,19.1,84.9,20.7,86.3,22,85.4,24.2,83.6,25.5,82.3,26.6]],
[-3,[103.4,32.1,105.4,32.8,107.7,31.8,107.2,30.2,105.4,30.4,104.6,31.4,104.1,30.8]],
[-3,[102.3,29.7,103.4,30.4,104.6,29.4,105.4,28,103.4,27.8,102.8,28.7]],
[-3,[84,27.1,87.2,27.1,91.2,26.4,88.5,25.7,91.4,25,90.1,22.6,90.5,21.7,87.6,22.1,86.9,23.8,85.8,25.2]],
[-4,[104.6,32.3,106.1,32.5,107.5,31.4,105.9,30.6,104.8,31.3]],
[-4,[103.2,29.7,103.9,29.4,104.6,28,103.7,28]],
[-4,[85.4,26.4,87.2,26.7,87.6,25.7,89.4,24.9,89.8,23.1,88.3,22.9,87.4,24.5,86.3,25.4]],
[-5,[86,26.2,87.5,26.2,87.5,25.4,86.3,25.5]],
[-5,[88.1,24.9,89.2,24.9,89,24,88.1,24.2]],
[-5,[105,32.1,106.1,32,106.8,31.3,105.7,30.9]],
[-6,[103.6,29,104.1,28.8,104.5,28,103.8,28]],
[0,[105,29.9,106.3,30,106.5,29.4,105.7,28.8,105,29]],
[0,[103,31,103.7,31,103.7,30.4,103,30.4]],
[5,[105.2,29.6,106.2,29.8,106.2,29.2,105.7,29]],
[8,[105.4,29.5,105.9,29.6,106,29.2,105.6,29.15]],
[3,[103.2,30.8,103.5,30.8,103.5,30.55,103.2,30.55]]
];

// ---- panel (f) filled contours ----
const contoursF = [
[-1,[121,47.1,123.9,47.4,125.7,46,129.3,45,132.4,45.8,134.4,45.8,134.4,41.5,129.7,40.8,127,39.8,125.7,37.7,124.4,36.6,121.7,37,120.4,35.6,121.5,33.2,121.7,30.7,120.4,27.6,118.6,24.9,115.9,22.4,111.5,21.4,109.3,21.4,110.2,19.3,108.4,18.3,106.2,17.5,105.7,15.8,100.8,15.8,100,19.3,99.1,21.7,97.3,22.2,98.2,24.9,99.1,26.2,100.8,27.6,101.3,30.1,102.6,32.5,102.2,34.6,100.8,35.6,100.2,37,102.2,38,104,39.1,106.2,39.3,109.7,40.1,106.2,40.5,108,41,113.3,41.8,117.3,42.5,118.2,43.2,119.9,45]],
[-1,[71.8,43.9,74.6,44.8,79.5,45.2,81.8,45.2,88.4,45.5,93.7,43.2,95.5,42.4,92.4,41.5,91.1,40.1,87.1,39.1,82.6,37.3,80.4,36.3,75.5,38,74.2,39.8,77.3,41.7,71.5,42.5]],
[-1,[92.4,40.8,95.5,41.1,98.2,40.1,101.3,38.7,102.2,38,99.1,39.1,94.6,39.8,92.4,39.8]],
[-1,[71.5,36,73.8,35.6,74.6,34,76,32.7,79.3,30.4,82.2,28.6,87.2,28.1,91.2,27.7,92.8,28.6,95.2,28.4,95.2,27.3,93.9,25.5,93.4,23.7,92.3,21.9,93,19.9,93,17.9,92.1,16.3,82.7,15.6,73.7,15.6,72.6,17,71.9,20.5,71.7,23,73.2,23.9,73.2,26.2,71.5,26.2]],
[0,[71.9,22.8,74.2,22.6,74,21,74.4,20.3,73.1,19.6,72.2,20.5]],
[-2,[122.6,45,124.4,44.3,126.6,43.6,132.8,45,133.3,43.2,129.3,42.5,126.2,42.5,124.4,43.2,122.6,42.9]],
[-2,[102.6,36.7,104,37.7,106.2,38,109.7,38.7,111.5,38.7,112.8,38,111,36.3,114.2,36,115.9,37.3,119.5,36.6,119,34.9,119.9,33.2,120.4,31.8,120.8,29.7,119,26.6,115.9,23.5,110.6,21.6,109.3,21.7,106.2,22.4,104.8,24.2,101.3,24.9,102.2,28.3,101.3,30.1,103.1,32.1,102.6,34.2,100.4,35.9,100.8,37]],
[-2,[103.9,22.8,105.7,22.8,105.3,19,104.6,17.6,103.7,20.3]],
[-2,[74.4,39.4,77.8,41.1,81.8,42,86.2,42.2,90.6,41.5,88,40.1,82.6,38.4,80.9,36.5,75.5,38]],
[-2,[87.1,42.9,88.9,43.4,93.7,42.7,93.3,41.9,90.2,42.2]],
[-2,[77.8,43.9,81.3,43.9,80.9,43.5,77.8,43.6]],
[-2,[71.5,32.7,75.1,33.6,76.2,32.2,79.6,29.7,82.2,28.4,87.2,27.8,92.3,27,94.3,27,93.2,24.4,92.5,22.3,92.3,20.5,92.1,18.1,90.7,16.6,82.2,16.2,76.6,16.3,73.7,16.5,72.7,18.5,73.7,19.4,76.9,19.4,76.9,20.5,78.4,22.5,76.2,22.3,76.6,23,74.4,24.1,74.2,27.3,71.7,27.9,71.5,28.2]],
[-3,[114.2,35.3,117.3,36.3,119.5,36.3,119,34.6,119.5,33.2,119.9,31.4,119.5,29.4,118.2,29,115.3,29.7,113.7,29.4,113.3,28.3,113.3,24.9,111.5,23.8,109.3,22.6,107.9,23.8,105.3,24.5,104,25.2,103.1,27.6,101.7,29.7,103.5,32.1,103.1,33.9,104.4,35.3,105.7,33.9,108.4,33.5,111.5,33.2,114.2,34.6]],
[-3,[110.4,36.3,111.5,38,112.4,38.7,111.9,36.6]],
[-3,[74.6,39.1,76.6,39.8,76,38.6]],
[-3,[74.4,32,76.9,31.3,79.3,29.5,79.6,28.7,82.2,28.4,84,28.1,87.2,27.6,92.1,26.6,94.3,27,93.5,25.3,92.8,24.1,91.6,23.5,91.4,22.1,91.2,19.7,90.7,18.8,87.6,18.5,84.9,19.2,82.7,18.3,81.8,17.9,79.6,16.7,79.3,17.3,81.1,18.3,80.9,19.2,84,19.4,84.9,20.8,83.6,21.2,82.9,20.5,79.6,21,81.3,22.3,82,24.1,80.4,24.1,80.4,25,76.6,26.2,76,27,76,28.8,74.2,30.9]],
[-4,[72.6,31.5,73.5,32.4,74.1,31.8,73.9,30.9,73.1,31.1]],
[-4,[102,30.1,103.5,32.1,106.2,32.8,109.7,32.1,113.3,31.8,115.3,30.1,111.9,29.7,112.8,26.6,110.8,25.2,109.3,26.2,108.8,29.4,107.5,29,108.4,27.3,106.2,26.1,104.4,25.4,103.1,27.8]],
[-4,[81.1,27,82.2,27.4,83.4,27.3,87.6,26.3,92.3,26.4,89.6,25.3,91.7,24.9,90.5,23.7,90.7,22.7,87.6,21.6,86.3,21.2,85.8,19.9,84.4,19.7,84.7,20.8,86,22.1,85.1,23,85.8,24.1,86.3,24.6,85.4,25,83.6,25.3,82,26.2]],
[-5,[102.2,29.7,103.7,32.1,106.2,32.7,108.4,31.4,106.4,30.7,107.1,28.7,108,27.6,106.2,26.8,104.8,26.3,103.5,27.6]],
[-5,[109.7,29,111.9,29.3,111.9,26.6,110.6,26.2]],
[-5,[83,26.9,85.1,26.8,87.4,26.3,89.2,25.5,91.7,24.9,90.5,23.7,90.7,22.8,87.6,21.7,86.3,21.4,85.6,22.3,86,23.5,86.7,24.1,86,24.6,85.8,25.3,84,25.5,83.4,26.2]],
[-6,[102.4,29.9,104,31.8,106.2,32.1,107.5,31.3,105.9,30.4,106.2,28.7,105.3,27.6,103.7,27.5,103.1,29]],
[-6,[85.3,26.3,87.6,26.3,89.2,25.4,89.2,24.8,88.5,23.7,88.1,22.8,87.2,22.8,87.4,24.1,87.6,25,86.3,25.7]],
[-7,[102.8,29.7,104,31.3,105.9,31.1,105.3,30,105.3,28.3,104,27.8,103.3,29]],
[-7,[86.3,26.3,87.6,26.3,88.3,25.4,87.6,25.1,86.7,25.7]],
[-9,[103,30,104,30.9,105.3,31,104.6,29.7,104.8,28.3,104,28,103.3,29]],
[1,[83.5,44.8,85.8,44.6,85.8,44.4,83.5,44.6]]
];

const SVGNS = 'http://www.w3.org/2000/svg';

const panels = [
  {id:'a', letter:'(a)', x:79,     y:70.5,   w:935,   h:593.5, contours:contoursA, bar:{x:266,    y:705.6, levels:levelsA, mode:'double'}},
  {id:'b', letter:'(b)', x:1095.5, y:70.5,   w:936.5, h:593.5, contours:contoursB, bar:{x:1282.6, y:705.6, levels:levelsB, mode:'double'}},
  {id:'c', letter:'(c)', x:79,     y:884.4,  w:935,   h:594,   contours:contoursC, bar:{x:266,    y:1519,  levels:levelsC, mode:'wide'}},
  {id:'d', letter:'(d)', x:1095.5, y:884.4,  w:936.5, h:594,   contours:contoursD, bar:{x:1282.6, y:1519,  levels:levelsD, mode:'wide'}},
  {id:'e', letter:'(e)', x:79,     y:1697.6, w:935,   h:595,   contours:contoursE, bar:{x:266,    y:2333,  levels:levelsE, mode:'single'}},
  {id:'f', letter:'(f)', x:1095.5, y:1697.6, w:936.5, h:595,   contours:contoursF, bar:{x:1282.6, y:2333,  levels:levelsF, mode:'value'}}
];

function xScale(p, lon){ return p.x + (lon - lonMin) / (lonMax - lonMin) * p.w; }
function yScale(p, lat){ return p.y + (latMax - lat) / (latMax - latMin) * p.h; }
function stepColor(step){
  if (step === 0) return '#ffffff';
  return step > 0 ? redSteps[step - 1] : blueSteps[-step - 1];
}
function project(p, ring){
  const pts = [];
  for (let i = 0; i + 1 < ring.length; i += 2) pts.push([xScale(p, ring[i]), yScale(p, ring[i + 1])]);
  return pts;
}
function smoothRing(pts){
  const n = pts.length;
  let d = 'M' + pts[0][0].toFixed(1) + ' ' + pts[0][1].toFixed(1);
  for (let i = 0; i < n; i++) {
    const a = pts[(i - 1 + n) % n], b = pts[i], c = pts[(i + 1) % n], e = pts[(i + 2) % n];
    const k = 0.16;
    d += 'C' + (b[0] + (c[0] - a[0]) * k).toFixed(1) + ' ' + (b[1] + (c[1] - a[1]) * k).toFixed(1) + ' ' +
         (c[0] - (e[0] - b[0]) * k).toFixed(1) + ' ' + (c[1] - (e[1] - b[1]) * k).toFixed(1) + ' ' +
         c[0].toFixed(1) + ' ' + c[1].toFixed(1);
  }
  return d + 'Z';
}
function smoothLine(pts){
  const n = pts.length;
  let d = 'M' + pts[0][0].toFixed(1) + ' ' + pts[0][1].toFixed(1);
  for (let i = 0; i < n - 1; i++) {
    const a = pts[Math.max(i - 1, 0)], b = pts[i], c = pts[i + 1], e = pts[Math.min(i + 2, n - 1)];
    const k = 0.11;
    d += 'C' + (b[0] + (c[0] - a[0]) * k).toFixed(1) + ' ' + (b[1] + (c[1] - a[1]) * k).toFixed(1) + ' ' +
         (c[0] - (e[0] - b[0]) * k).toFixed(1) + ' ' + (c[1] - (e[1] - b[1]) * k).toFixed(1) + ' ' +
         c[0].toFixed(1) + ' ' + c[1].toFixed(1);
  }
  return d;
}
function make(tag, attrs, parent){
  const el = document.createElementNS(SVGNS, tag);
  for (const k in attrs) el.setAttribute(k, attrs[k]);
  parent.appendChild(el);
  return el;
}

const mapsRoot = document.getElementById('maps');
const defs = make('defs', {}, mapsRoot);

panels.forEach(function(p){
  const clip = make('clipPath', {id:'clip-' + p.id}, defs);
  make('rect', {x:p.x, y:p.y, width:p.w, height:p.h}, clip);

  const g = make('g', {'clip-path':'url(#clip-' + p.id + ')'}, mapsRoot);
  
  

  p.contours.forEach(function(c){
    const shape = make('path', {d:smoothRing(project(p, c[1])), fill:stepColor(c[0])}, g);
    
    
  });

  provinces.forEach(function(line){
    const prov = make('path', {d:smoothLine(project(p, line)), fill:'none', stroke:'#8c8c8c', 'stroke-width':1.2, 'stroke-linejoin':'round'}, g);
    
    
  });
  coastlines.forEach(function(line){
    const coast = make('path', {d:smoothLine(project(p, line)), fill:'none', stroke:'#1c1c1c', 'stroke-width':1.6, 'stroke-linejoin':'round'}, g);
    
    
  });

  const frame = make('rect', {x:p.x, y:p.y, width:p.w, height:p.h, fill:'none', stroke:'#555', 'stroke-width':1.5}, mapsRoot);
  
  

  const letter = make('text', {x:p.x + 4, y:p.y + 38, class:'letter'}, mapsRoot);
  
  
  letter.textContent = p.letter;

  latTicks.forEach(function(lat){
    const t = make('text', {x:p.x - 2, y:yScale(p, lat) + 6, class:'tick', 'text-anchor':'end'}, mapsRoot);
    
    
    t.textContent = lat + '° N';
  });
  lonTicks.forEach(function(lon){
    const t = make('text', {x:xScale(p, lon), y:p.y + p.h + 23, class:'tick', 'text-anchor':'middle'}, mapsRoot);
    
    
    t.textContent = lon + '° E';
  });
});

// ---- colour bars ----
const barsRoot = document.getElementById('cbars');
const barWidth = 561.5, barHeight = 21.5;

function barColors(mode){
  const blues = blueSteps.slice().reverse();
  const reds = redSteps.slice();
  if (mode === 'double') return ['#053061'].concat(blues, ['#ffffff'], reds);
  if (mode === 'wide') return ['#053061'].concat(blues, ['#ffffff', '#ffffff'], reds);
  return blues.concat(['#ffffff'], reds);
}

panels.forEach(function(p){
  const b = p.bar;
  const colors = barColors(b.mode);
  const lv = b.levels;
  const lo = lv[0], hi = lv[lv.length - 1];
  function edge(i){
    const f = b.mode === 'value' ? (lv[i] - lo) / (hi - lo) : i / (lv.length - 1);
    return b.x + f * barWidth;
  }
  colors.forEach(function(col, i){
    const cell = make('rect', {x:edge(i), y:b.y, width:edge(i + 1) - edge(i) + 0.4, height:barHeight, fill:col}, barsRoot);
    
    
  });
  const outline = make('rect', {x:b.x, y:b.y, width:barWidth, height:barHeight, fill:'none', stroke:'#a8a8a8', 'stroke-width':1}, barsRoot);
  
  
});
</script>
</body>
</html>
